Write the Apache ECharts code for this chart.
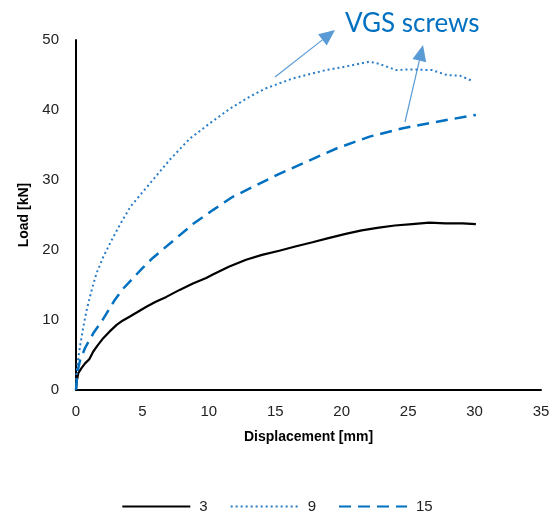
<!DOCTYPE html>
<html>
<head>
<meta charset="utf-8">
<script src="https://cdn.jsdelivr.net/npm/echarts@6/dist/echarts.min.js"></script>
<style>
  html, body { margin: 0; padding: 0; background: #fff; }
  #chart { width: 554px; height: 515px; }
</style>
</head>
<body>
<div id="chart"></div>
<script>
// Load–displacement curves for three specimens
const seriesNames = ['3', '9', '15'];

const disp3 = [0, 0.05, 0.17, 0.4, 0.68, 1.0, 1.3, 1.6, 2.05, 2.5, 3.06, 3.5, 4.06, 4.6, 5.3, 6.0, 6.8, 7.8, 8.8, 9.8, 10.3, 11.5, 12.8, 14.0, 15.3, 16.5, 17.8, 19.0, 20.3, 21.5, 22.8, 24.0, 25.3, 26.6, 27.8, 29.1, 30.1];
const load3 = [0, 1.2, 2.4, 3.1, 3.8, 4.4, 5.5, 6.3, 7.4, 8.3, 9.3, 9.9, 10.5, 11.1, 11.9, 12.6, 13.3, 14.3, 15.2, 16.0, 16.5, 17.6, 18.6, 19.3, 19.9, 20.5, 21.1, 21.7, 22.3, 22.8, 23.2, 23.5, 23.7, 23.9, 23.8, 23.8, 23.7];

const disp9 = [0, 0.05, 0.15, 0.3, 0.55, 0.8, 1.18, 1.55, 2.05, 2.68, 3.3, 4.1, 5.56, 7.06, 8.56, 10.07, 11.6, 13.07, 14.3, 16.3, 18.8, 20.3, 21.3, 22.1, 22.8, 24.1, 25.1, 26.8, 27.9, 28.9, 29.9];
const load9 = [0, 2.5, 4.3, 6.2, 9.0, 11.4, 14.3, 16.7, 19.0, 21.4, 23.6, 26.2, 29.5, 32.9, 35.9, 38.1, 40.2, 41.9, 43.1, 44.5, 45.7, 46.2, 46.6, 46.9, 46.6, 45.7, 45.8, 45.7, 45.0, 44.9, 44.1];

const disp15 = [0, 0.1, 0.3, 0.68, 1.3, 1.93, 2.93, 3.56, 4.3, 5.0, 5.8, 7.3, 8.8, 10.3, 11.8, 13.3, 15.1, 17.1, 19.6, 22.1, 24.6, 27.1, 30.1];
const load15 = [0, 2.5, 4.2, 6.0, 8.1, 9.8, 12.9, 14.5, 16.0, 17.4, 18.9, 21.3, 23.7, 25.7, 27.6, 29.0, 30.7, 32.4, 34.5, 36.2, 37.4, 38.3, 39.3];

const xTicks = { min: 0, max: 35, interval: 5 };
const yTicks = { min: 0, max: 50, interval: 10 };

const pairs = (xs, ys) => xs.map((x, i) => [x, ys[i]]);

const FONT = '"Liberation Sans", Arial, sans-serif';
const ARROW_COLOR = '#5B9BD5';

// Annotation arrow: shaft plus triangular head, pixel space
function arrow(x1, y1, x2, y2) {
  const dx = x2 - x1, dy = y2 - y1;
  const len = Math.hypot(dx, dy);
  const ux = dx / len, uy = dy / len;
  const headLen = 16, headHalf = 7;
  const bx = x2 - ux * headLen, by = y2 - uy * headLen;
  const px = -uy, py = ux;
  return [
    { type: 'line', shape: { x1: x1, y1: y1, x2: bx, y2: by },
      style: { stroke: ARROW_COLOR, lineWidth: 1.2 } },
    { type: 'polygon',
      shape: { points: [[x2, y2], [bx + px * headHalf, by + py * headHalf], [bx - px * headHalf, by - py * headHalf]] },
      style: { fill: ARROW_COLOR } }
  ];
}

const chart = echarts.init(document.getElementById('chart'));
chart.setOption({
  animation: false,
  backgroundColor: '#fff',
  grid: { left: 76, right: 13, top: 40, bottom: 125, containLabel: false },
  xAxis: {
    type: 'value', min: xTicks.min, max: xTicks.max, interval: xTicks.interval,
    name: 'Displacement [mm]', nameLocation: 'middle', nameGap: 40,
    nameTextStyle: { fontFamily: FONT, fontSize: 14, fontWeight: 'bold', color: '#000' },
    axisLine: { onZero: false, lineStyle: { color: '#000', width: 2 } },
    axisTick: { show: false },
    splitLine: { show: false },
    axisLabel: { fontFamily: FONT, fontSize: 15, color: '#222', margin: 14 }
  },
  yAxis: {
    type: 'value', min: yTicks.min, max: yTicks.max, interval: yTicks.interval,
    name: 'Load [kN]', nameLocation: 'middle', nameGap: 38, nameRotate: 90,
    nameTextStyle: { fontFamily: FONT, fontSize: 14, fontWeight: 'bold', color: '#000' },
    axisLine: { show: true, onZero: false, lineStyle: { color: '#000', width: 2 } },
    axisTick: { show: false },
    splitLine: { show: false },
    axisLabel: { fontFamily: FONT, fontSize: 15, color: '#222', margin: 17 }
  },
  legend: {
    bottom: 1, left: 'center', padding: 0,
    itemWidth: 68, itemHeight: 10, itemGap: 22,
    itemStyle: { opacity: 0 },
    textStyle: { fontFamily: FONT, fontSize: 15, color: '#222', padding: [0, 0, 0, 4] },
    data: seriesNames
  },
  series: [
    { name: seriesNames[0], type: 'line', data: pairs(disp3, load3), showSymbol: false, symbol: 'none',
      lineStyle: { color: '#000', width: 2.2 }, itemStyle: { color: '#000' } },
    { name: seriesNames[1], type: 'line', data: pairs(disp9, load9), showSymbol: false, symbol: 'none',
      lineStyle: { color: '#2A7CC6', width: 2, type: [2, 3] }, itemStyle: { color: '#2A7CC6' } },
    { name: seriesNames[2], type: 'line', data: pairs(disp15, load15), showSymbol: false, symbol: 'none',
      lineStyle: { color: '#0070C0', width: 2.5, type: [12, 7] }, itemStyle: { color: '#0070C0' } }
  ],
  graphic: [
    { type: 'text', left: 345, top: 11,
      style: { text: 'VGS screws', fill: '#0070C0', font: '26px Lato, "Open Sans", sans-serif' } }
  ].concat(arrow(275, 77, 335, 30), arrow(405, 122, 423, 45))
});
</script>
</body>
</html>
